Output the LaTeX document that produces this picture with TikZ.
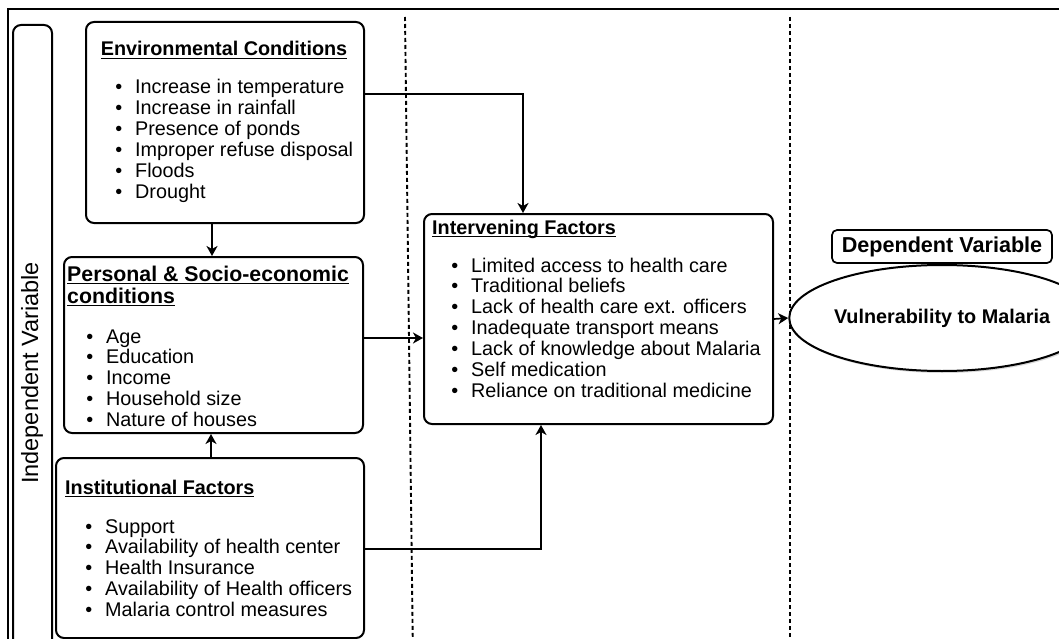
\documentclass[tikz,border=0pt]{standalone}
\usepackage{fontspec}
\setmainfont{Liberation Sans}
\usetikzlibrary{arrows.meta,calc,shapes.geometric,shadows}

% heavy underline for the panel headings
\newcommand\titleul[1]{\setbox0\hbox{#1}\rlap{\rule[-3.2pt]{\wd0}{1.6pt}}\box0}
\newcommand\bodyfont{\fontsize{19.8}{21}\selectfont}
\newcommand\headfont{\fontsize{19.8}{21}\selectfont\bfseries}
\newcommand\bigheadfont{\fontsize{21.3}{22}\selectfont\bfseries}
\newcommand\bul{\llap{•\hspace{13pt}}}

\begin{document}
\begin{tikzpicture}[x=1pt,y=-1pt,
  panel/.style={draw, line width=2pt, rounded corners=8pt, inner sep=0pt,
    anchor=north west, fill=white},
  item/.style={anchor=base west, inner sep=0pt, font=\bodyfont},
  head/.style={anchor=base west, inner sep=0pt, font=\headfont},
  arr/.style={-{Stealth[length=10pt,width=11pt,inset=3pt]}, line width=1.7pt},
  divider/.style={dash pattern=on 4pt off 3pt, line width=1.9pt},
  frame/.style={line width=2.2pt}]

\useasboundingbox (0,0) rectangle (1059,639);
\clip (0,0) rectangle (1059,639);

% outer frame (open towards the right and the bottom)
\coordinate (frTR) at (1070,9);
\coordinate (frTL) at (8,9);
\coordinate (frBL) at (8,660);
\draw[frame] (frTR) -- (frTL) -- (frBL);

% dashed column dividers
\coordinate (d1a) at (405,17);
\coordinate (d1b) at (413,660);
\coordinate (d2a) at (790,17);
\coordinate (d2b) at (790,660);
\draw[divider] (d1a) -- (d1b);
\draw[divider] (d2a) -- (d2b);

% independent variable band
\node[panel, minimum width=39pt, minimum height=660pt] (indep) at (12,24) {};
\node[rotate=90, inner sep=0pt, font=\fontsize{23.5}{25}\selectfont] (indepT) at (32,373) {Independent Variable};

% environmental conditions
\node[panel, minimum width=278pt, minimum height=201pt] (env) at (85,21) {};
\node[anchor=base, inner sep=0pt, font=\headfont] (envT) at (224,56) {\titleul{Environmental Conditions}};
\foreach \t [count=\i] in {Increase in temperature, Increase in rainfall, Presence of ponds,
    Improper refuse disposal, Floods, Drought}
  \node[item] (env\i) at (135,{94+20.9*(\i-1)}) {\bul\t};

% personal and socio-economic conditions
\node[panel, minimum width=299pt, minimum height=176pt] (pers) at (63,256) {};
\node[anchor=base west, inner sep=0pt, font=\bigheadfont] (persT1) at (67,281) {\titleul{Personal \& Socio-economic}};
\node[anchor=base west, inner sep=0pt, font=\bigheadfont] (persT2) at (67,303) {\titleul{conditions}};
\foreach \t [count=\i] in {Age, Education, Income, Household size, Nature of houses}
  \node[item] (pers\i) at (106,{343+20.9*(\i-1)}) {\bul\t};

% institutional factors
\node[panel, minimum width=308pt, minimum height=180pt] (inst) at (55,457) {};
\node[head] (instT) at (65,494) {\titleul{Institutional Factors}};
\foreach \t [count=\i] in {Support, Availability of health center, Health Insurance,
    Availability of Health officers, Malaria control measures}
  \node[item] (inst\i) at (105,{533+20.9*(\i-1)}) {\bul\t};

% intervening factors
\node[panel, minimum width=349pt, minimum height=210pt] (interv) at (423,213) {};
\node[head] (intervT) at (432,234) {\titleul{Intervening Factors}};
\foreach \t [count=\i] in {Limited access to health care, Traditional beliefs,
    Lack of health care ext. officers, Inadequate transport means,
    Lack of knowledge about Malaria, Self medication, Reliance on traditional medicine}
  \node[item] (interv\i) at (471,{272+20.9*(\i-1)}) {\bul\t};

% dependent variable
\node[draw, line width=1.7pt, rounded corners=5pt, inner sep=0pt, minimum width=220pt,
  minimum height=33pt, font=\fontsize{21.6}{22}\selectfont\bfseries] (dep) at (942,246.5) {Dependent Variable};
\node[ellipse, draw, line width=2pt, fill=white, inner sep=0pt, minimum width=234pt,
  minimum height=106pt, font=\headfont,
  drop shadow={shadow xshift=1.5pt, shadow yshift=-2pt, opacity=0.3}] (vuln) at (942,318) {Vulnerability to Malaria};

% connectors
\draw[arr] ($(env.north east)+(0,73)$) -| ($(interv.north west)+(100,0)$);
\draw[arr] ($(env.south west)+(127,0)$) -- ($(pers.north west)+(149,0)$);
\draw[arr] ($(inst.north west)+(156,0)$) -- ($(pers.south west)+(148,0)$);
\draw[arr] ($(pers.north east)+(0,82)$) -- ($(interv.north west)+(0,125)$);
\draw[arr] ($(inst.north east)+(0,92)$) -| ($(interv.south west)+(118,0)$);
\draw[arr] (interv.east) -- (vuln.west);

\end{tikzpicture}
\end{document}
